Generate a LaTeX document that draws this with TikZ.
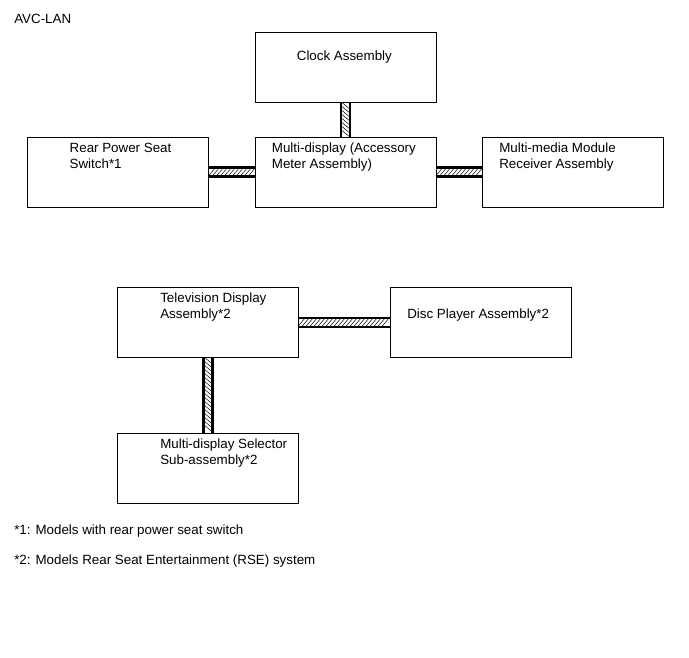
\documentclass[tikz,border=0pt]{standalone}
\usepackage{fontspec}
\setmainfont{Liberation Sans}
\usepackage{tikz}
\usetikzlibrary{positioning,decorations.markings}

\begin{document}
\begin{tikzpicture}[
  unit/.style={
    draw=black, line width=0.7pt, fill=white,
    minimum width=4.525cm, minimum height=1.75cm
  },
  txt/.style={
    font=\fontsize{9.5}{11.4}\selectfont, align=left, inner sep=0pt, anchor=base west
  },
  bus/.style={
    draw=black, line width=0.06cm, double=white, double distance=0.17cm,
    postaction={decorate, decoration={markings,
      mark=between positions 0.06cm and -0.06cm step 0.1cm with
        {\draw[black, line width=0.35pt] (-0.075,-0.09) -- (0.075,0.09);}}}
  }
]
\useasboundingbox (0,0) rectangle (17.225,16.45);

% Titel
\node[txt] (title) at (0.35,15.85) {AVC-LAN};

% Obere Gruppe
\node[unit] (clock) at (8.64,14.76) {};
\node[unit] (rear)  at (2.96,12.15) {};
\node[unit] (multi) at (8.64,12.15) {};
\node[unit] (media) at (14.325,12.15) {};

% Untere Gruppe
\node[unit] (tv)   at (5.2,8.39) {};
\node[unit] (disc) at (12.025,8.39) {};
\node[unit] (sel)  at (5.2,4.75) {};

% Busleitungen
\draw[bus] (clock.south) -- (multi.north);
\draw[bus] (rear.east) -- (multi.west);
\draw[bus] (multi.east) -- (media.west);
\draw[bus] (tv.east) -- (disc.west);
\draw[bus] (tv.south) -- (sel.north);

% Beschriftungen (Basislinie = letzte Zeile)
\node[txt] (clockT) at ([shift={(1.05,-0.71)}]clock.north west) {Clock Assembly};
\node[txt] (rearT)  at ([shift={(1.05,-0.79)}]rear.north west) {Rear Power Seat\\Switch*1};
\node[txt] (multiT) at ([shift={(0.425,-0.79)}]multi.north west) {Multi-display (Accessory\\Meter Assembly)};
\node[txt] (mediaT) at ([shift={(0.425,-0.79)}]media.north west) {Multi-media Module\\Receiver Assembly};
\node[txt] (tvT)    at ([shift={(1.075,-0.79)}]tv.north west) {Television Display\\Assembly*2};
\node[txt] (discT)  at ([shift={(0.425,-0.79)}]disc.north west) {Disc Player Assembly*2};
\node[txt] (selT)   at ([shift={(1.075,-0.79)}]sel.north west) {Multi-display Selector\\Sub-assembly*2};

% Fussnoten
\node[txt] (note1) at (0.35,3.075) {*1: Models with rear power seat switch};
\node[txt] (note2) at (0.35,2.325) {*2: Models Rear Seat Entertainment (RSE) system};
\end{tikzpicture}
\end{document}
